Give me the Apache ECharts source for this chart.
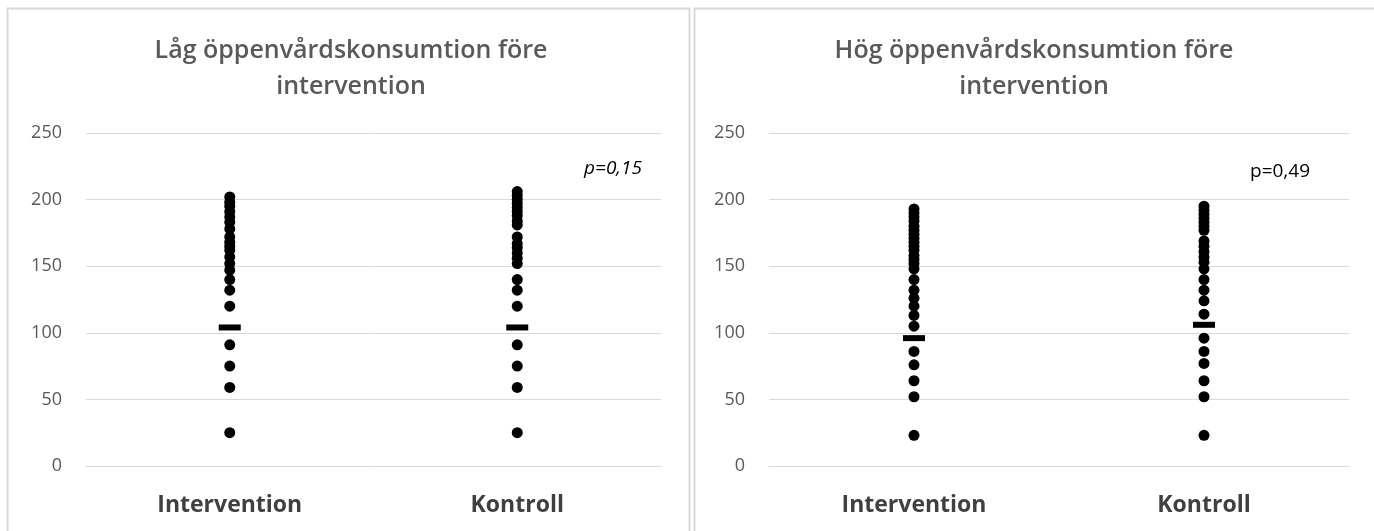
<!DOCTYPE html>
<html><head><meta charset="utf-8">
<script src="https://cdn.jsdelivr.net/npm/echarts@6/dist/echarts.min.js"></script>
<style>html,body{margin:0;padding:0;background:#fff}#c{width:1374px;height:531px}</style>
</head><body><div id="c"></div>
<script>
const categories = ['Intervention', 'Kontroll'];
const yTicks = [0, 50, 100, 150, 200, 250];
const titles = ['Låg öppenvårdskonsumtion före\nintervention', 'Hög öppenvårdskonsumtion före\nintervention'];
const pValues = ['p=0,15', 'p=0,49'];
const lowIntervention = [25, 59, 75, 91, 120, 132, 140, 147, 152, 157, 162, 165, 168, 172, 178, 183, 187, 191, 195, 198, 202];
const lowKontroll = [25, 59, 75, 91, 120, 132, 140, 152, 156, 160, 164, 167, 172, 181, 184, 188, 191, 194, 197, 200, 203, 206];
const lowMedian = [104, 104];
const highIntervention = [23, 52, 64, 76, 86, 105, 113, 120, 126, 132, 140, 148, 152, 155, 158, 162, 165, 168, 171, 174, 177, 180, 184, 187, 190, 193];
const highKontroll = [23, 52, 64, 77, 86, 96, 114, 124, 132, 140, 148, 153, 157, 161, 165, 169, 177, 180, 183, 186, 189, 192, 195];
const highMedian = [96, 106];

const FONT = '"Open Sans"';
function pts(cat, arr) { return arr.map(v => [cat, v]); }
function yAxis(gi) {
  return { type: 'value', gridIndex: gi, min: 0, max: 250, interval: 50,
    axisLine: { show: false }, axisTick: { show: false },
    axisLabel: { color: '#595959', fontSize: 18, fontFamily: FONT, margin: 24 },
    splitLine: { lineStyle: { color: '#d9d9d9', width: 1 } } };
}
function xAxis(gi) {
  return { type: 'category', gridIndex: gi, data: categories, boundaryGap: true,
    axisLine: { lineStyle: { color: '#d9d9d9' } }, axisTick: { show: false },
    axisLabel: { color: '#404040', fontSize: 23, fontWeight: 'bold', fontFamily: FONT, margin: 28 } };
}
const dot = { color: '#000', opacity: 1 };
function dotsSeries(gi, cat, arr) {
  return { type: 'scatter', xAxisIndex: gi, yAxisIndex: gi, symbol: 'circle', symbolSize: 11,
    itemStyle: dot, data: pts(cat, arr), silent: true, z: 3 };
}
function medianSeries(gi, arr) {
  return { type: 'scatter', xAxisIndex: gi, yAxisIndex: gi, symbol: 'rect', symbolSize: [22, 6],
    itemStyle: dot, data: arr.map((v, i) => [categories[i], v]), silent: true, z: 4 };
}
const chart = echarts.init(document.getElementById('c'));
chart.setOption({
  animation: false,
  backgroundColor: '#fff',
  grid: [
    { left: 86, right: 1374 - 661, top: 133, bottom: 531 - 466 },
    { left: 769, right: 1374 - 1349, top: 133, bottom: 531 - 466 }
  ],
  xAxis: [xAxis(0), xAxis(1)],
  yAxis: [yAxis(0), yAxis(1)],
  series: [
    dotsSeries(0, categories[0], lowIntervention),
    dotsSeries(0, categories[1], lowKontroll),
    medianSeries(0, lowMedian),
    dotsSeries(1, categories[0], highIntervention),
    dotsSeries(1, categories[1], highKontroll),
    medianSeries(1, highMedian)
  ],
  graphic: [
    { type: 'rect', shape: { x: 7.5, y: 8.5, width: 682, height: 530 }, style: { fill: 'none', stroke: '#d9d9d9', lineWidth: 2 }, z: -1 },
    { type: 'rect', shape: { x: 694.5, y: 8.5, width: 690, height: 530 }, style: { fill: 'none', stroke: '#d9d9d9', lineWidth: 2 }, z: -1 },
    { type: 'text', x: 351, y: 33, style: { text: titles[0], textAlign: 'center', fill: '#595959', font: '600 25px ' + FONT, lineHeight: 36 } },
    { type: 'text', x: 1034, y: 33, style: { text: titles[1], textAlign: 'center', fill: '#595959', font: '600 25px ' + FONT, lineHeight: 36 } },
    { type: 'text', x: 642, y: 159, style: { text: pValues[0], textAlign: 'right', fill: '#000', font: 'italic 19px ' + FONT } },
    { type: 'text', x: 1310, y: 162, style: { text: pValues[1], textAlign: 'right', fill: '#000', font: '19px ' + FONT } }
  ]
});
</script></body></html>
